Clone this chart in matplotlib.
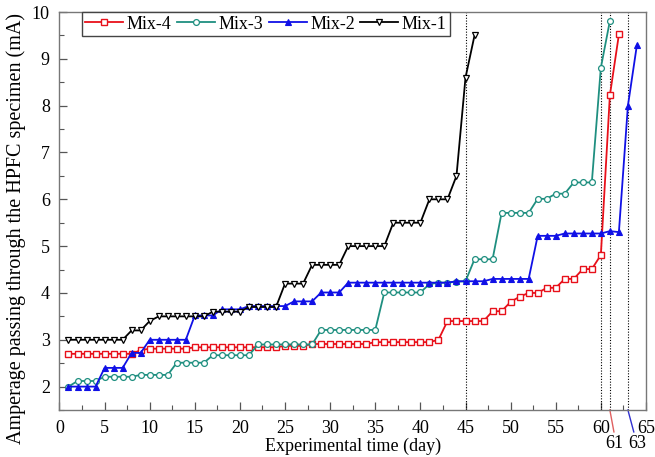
import matplotlib
matplotlib.use("Agg")
import matplotlib.pyplot as plt
from matplotlib.ticker import MultipleLocator

plt.rcParams['font.family'] = ['Liberation Serif', 'DejaVu Serif']

# ---- data ----
mix1_days = list(range(1, 47))
mix1 = [3.0, 3.0, 3.0, 3.0, 3.0, 3.0, 3.0, 3.2, 3.2, 3.4,
        3.5, 3.5, 3.5, 3.5, 3.5, 3.5, 3.6, 3.6, 3.6, 3.6,
        3.7, 3.7, 3.7, 3.7, 4.2, 4.2, 4.2, 4.6, 4.6, 4.6,
        4.6, 5.0, 5.0, 5.0, 5.0, 5.0, 5.5, 5.5, 5.5, 5.5,
        6.0, 6.0, 6.0, 6.5, 8.6, 9.5]

mix2_days = list(range(1, 65))
mix2 = [2.0, 2.0, 2.0, 2.0, 2.4, 2.4, 2.4, 2.72, 2.72, 3.0,
        3.0, 3.0, 3.0, 3.0, 3.52, 3.52, 3.52, 3.65, 3.65, 3.65,
        3.72, 3.72, 3.72, 3.72, 3.72, 3.82, 3.82, 3.82, 4.01, 4.01,
        4.01, 4.22, 4.22, 4.22, 4.22, 4.22, 4.22, 4.22, 4.22, 4.22,
        4.22, 4.22, 4.22, 4.25, 4.25, 4.25, 4.25, 4.3, 4.3, 4.3,
        4.3, 4.3, 5.22, 5.22, 5.22, 5.27, 5.27, 5.27, 5.27, 5.27,
        5.32, 5.3, 8.0, 9.3]

mix3_days = list(range(1, 62))
mix3 = [2.0, 2.12, 2.12, 2.12, 2.21, 2.21, 2.21, 2.21, 2.25, 2.25,
        2.25, 2.25, 2.51, 2.51, 2.51, 2.51, 2.67, 2.67, 2.67, 2.67,
        2.67, 2.9, 2.9, 2.9, 2.9, 2.9, 2.9, 2.9, 3.21, 3.21,
        3.21, 3.21, 3.21, 3.21, 3.21, 4.01, 4.01, 4.01, 4.01, 4.01,
        4.19, 4.22, 4.22, 4.24, 4.25, 4.72, 4.72, 4.72, 5.71, 5.71,
        5.71, 5.71, 6.01, 6.01, 6.12, 6.12, 6.36, 6.36, 6.36, 8.81,
        9.81]

mix4_days = list(range(1, 63))
mix4 = [2.7, 2.7, 2.7, 2.7, 2.7, 2.7, 2.7, 2.7, 2.78, 2.81,
        2.81, 2.81, 2.81, 2.81, 2.84, 2.84, 2.84, 2.84, 2.84, 2.84,
        2.84, 2.84, 2.84, 2.84, 2.87, 2.87, 2.87, 2.91, 2.91, 2.91,
        2.91, 2.91, 2.91, 2.91, 2.95, 2.95, 2.95, 2.95, 2.95, 2.95,
        2.95, 3.0, 3.4, 3.4, 3.4, 3.4, 3.4, 3.61, 3.61, 3.81,
        3.92, 4.0, 4.0, 4.11, 4.11, 4.3, 4.3, 4.51, 4.51, 4.81,
        8.22, 9.52]

failure_days = [45, 60, 61, 63]
x_ticks = list(range(0, 70, 5))
y_ticks = list(range(2, 11))

# ---- figure ----
fig = plt.figure(figsize=(6.55, 4.57), dpi=100)
ax = fig.add_axes([0.0908, 0.1028, 0.8954, 0.8709])

FS = 13
ax.plot(mix4_days, mix4, color='#e8101a', lw=1.3, marker='s', ms=4,
        mfc='white', mec='#e8101a', mew=1.0, label='Mix-4', zorder=3)
ax.plot(mix3_days, mix3, color='#1f8f80', lw=1.3, marker='o', ms=4.2,
        mfc='white', mec='#1f8f80', mew=0.9, label='Mix-3', zorder=4)
ax.plot(mix2_days, mix2, color='#1010e6', lw=1.3, marker='^', ms=4.5,
        mfc='#1010e6', mec='#1010e6', mew=0.8, label='Mix-2', zorder=5)
ax.plot(mix1_days, mix1, color='black', lw=1.3, marker='v', ms=4.5,
        mfc='white', mec='black', mew=0.9, label='Mix-1', zorder=6)

for d in failure_days:
    ax.axvline(d, color='black', lw=0.8, ls=(0, (1, 1.5)), zorder=2)

ax.set_xlim(0, 65)
ax.set_ylim(1.5, 10)
ax.set_xticks(x_ticks)
ax.set_yticks(y_ticks)
ax.xaxis.set_minor_locator(MultipleLocator(2.5))
ax.yaxis.set_minor_locator(MultipleLocator(0.5))
ax.tick_params(which='both', direction='in', top=False, right=False,
               labelsize=FS, color='#555555')
ax.tick_params(which='major', length=6, width=0.9, pad=7)
ax.tick_params(which='minor', length=3.5, width=0.8)
for s in ax.spines.values():
    s.set_color('#777777')
    s.set_linewidth(1.0)

ax.set_xlabel('Experimental time (day)', fontsize=FS, labelpad=1)
ax.set_ylabel('Amperage passing through the HPFC specimen (mA)', fontsize=14.5)
ax.yaxis.set_label_coords(-0.057, 0.455)

# markers of failure days below axis
trans = ax.get_xaxis_transform()
ax.plot([61, 61.45], [0, -0.055], color='#e06060', lw=1.0, transform=trans,
        clip_on=False)
ax.plot([63, 63.65], [0, -0.055], color='#3030d0', lw=1.0, transform=trans,
        clip_on=False)
ax.text(61.5, -0.083, '61', transform=trans, ha='center', va='center',
        fontsize=FS)
ax.text(64.0, -0.083, '63', transform=trans, ha='center', va='center',
        fontsize=FS)

leg = ax.legend(loc='upper left', bbox_to_anchor=(0.038, 1.0), ncol=4,
                fontsize=FS, frameon=True, fancybox=False, framealpha=1,
                edgecolor='#444444', borderpad=0.2, handlelength=2.1,
                handletextpad=0.2, columnspacing=0.3, borderaxespad=0)
leg.get_frame().set_linewidth(1.0)

fig.savefig('out.png', dpi=100)
